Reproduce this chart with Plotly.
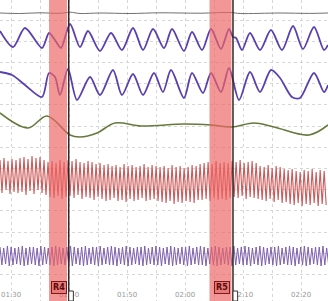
import plotly.graph_objects as go

# ---- x axis ticks ----
tick_vals = [90, 95, 100, 105, 110, 115, 120, 125, 130, 135, 140]
tick_text = ["01:30", "", "01:40", "", "01:50", "", "02:00", "", "02:10", "", "02:20"]

# ---- slow channels (time in s, value in display units) ----
gray_t = [88.1, 91.5, 95.0, 98.4, 100.2, 101.9, 105.3, 110.5, 115.7, 122.6, 127.8, 129.5, 136.4, 141.5, 144.65]
gray_v = [13, 13.5, 12.8, 13.3, 12.2, 13.5, 13, 13.5, 12.8, 13.2, 12.5, 13.5, 13, 13.4, 13]

p1_t = [88.10, 90.34, 92.41, 95.34, 96.55, 97.58, 98.62, 100.17, 101.89, 103.27, 105.34, 107.24,
        109.13, 111.03, 112.76, 114.48, 116.38, 117.76, 119.82, 121.20, 122.93, 124.48, 126.20,
        127.58, 128.27, 128.80, 129.82, 131.20, 132.93, 134.82, 136.72, 138.62, 140.34, 142.24,
        143.96, 144.65]
p1_v = [31, 47, 28, 48, 33, 40, 48, 24, 47, 31, 51, 33,
        50, 28, 50, 29, 48, 29, 51, 32, 50, 29, 49,
        29, 37, 38, 50, 33, 50, 30, 50, 26, 49, 27,
        50, 45]

p2_t = [88.10, 90.17, 92.41, 95.34, 96.55, 97.58, 98.44, 99.82, 101.38, 103.62, 105.34, 107.58,
        109.13, 111.03, 112.76, 114.65, 116.20, 117.58, 119.82, 121.20, 123.10, 124.48, 126.20,
        127.58, 129.31, 131.20, 132.93, 134.82, 136.38, 138.44, 139.82, 142.24, 143.96, 144.65]
p2_v = [72, 75, 85, 97, 73, 77, 95, 69, 100, 77, 95, 70,
        95, 74, 95, 73, 92, 70, 98, 73, 93, 73, 92,
        68, 100, 72, 92, 70, 78, 97, 98, 73, 92, 85]

ol_t = [88.10, 92.93, 96.20, 100.17, 101.89, 104.82, 107.93, 112.5,
        119.82, 124.48, 128.10, 131.89, 135.34, 141.38, 144.65]
ol_v = [113, 128, 116, 135, 137, 133, 123, 126,
        124, 125, 127, 123, 127, 135, 125]

# ---- dense channels: per-cycle peak / trough values ----
red_t0 = 88.1
red_period = 0.69
red_top = [160, 158, 161, 159, 160,
           158, 157, 159, 156, 158, 157, 160,
           162, 161, 163, 160, 162,
           160, 161, 159, 162, 163, 161, 162, 164,
           163, 165, 164, 166, 165, 167, 164, 166, 165, 167, 166, 164, 167, 165, 166,
           167, 166, 168, 165, 167, 166, 168, 167, 165, 166,
           164, 163, 162, 164, 161, 163, 162, 163,
           161, 162, 160, 163, 162, 161, 163,
           166, 167, 165, 168, 166, 167, 169,
           170, 169, 171, 172, 170, 171, 169, 172, 170, 171]
red_bot = [193, 190, 194, 192, 193,
           192, 195, 191, 194, 190, 193, 195,
           197, 198, 196, 199, 197,
           196, 198, 195, 199, 197, 198, 200, 197,
           199, 201, 200, 198, 201, 200, 202, 199, 201, 200, 198, 201, 200, 199, 201,
           202, 203, 201, 204, 202, 203, 201, 202, 203, 200,
           200, 199, 201, 198, 200, 199, 200, 198,
           197, 198, 196, 199, 197, 198, 199,
           200, 201, 199, 202, 200, 203, 202,
           204, 205, 203, 206, 204, 205, 203, 206, 204, 205]

pd_t0 = 88.1
pd_period = 0.64
pd_top = [247, 248, 246, 247, 248, 247, 246, 248, 247, 247,
          248, 246, 247, 248, 247, 246, 247, 248, 247, 246,
          247, 248, 247, 246, 248, 247, 247, 246, 248, 247,
          246, 247, 248, 247, 246, 247, 248, 247, 247, 246,
          248, 247, 246, 247, 248, 247, 246, 247, 248, 247,
          247, 246, 248, 247, 246, 247, 248, 247, 246, 247,
          248, 247, 247, 246, 248, 247, 246, 247, 248, 247,
          246, 247, 248, 247, 247, 246, 248, 247, 246, 247,
          248, 247, 246, 247, 248, 247, 247, 246, 248]
pd_bot = [265, 264, 266, 265, 264, 265, 266, 265, 264, 265,
          266, 265, 264, 265, 266, 265, 264, 265, 265, 266,
          264, 265, 266, 265, 264, 265, 266, 265, 264, 265,
          265, 266, 264, 265, 266, 265, 264, 265, 266, 265,
          264, 265, 265, 266, 264, 265, 266, 265, 264, 265,
          266, 265, 264, 265, 265, 266, 264, 265, 266, 265,
          264, 265, 266, 265, 264, 265, 265, 266, 264, 265,
          266, 265, 264, 265, 266, 265, 264, 265, 265, 266,
          264, 265, 266, 265, 264, 265, 266, 265, 264]

# ---- events ----
ev_labels = ["R4", "R5"]
ev_start = [96.55, 124.22]
ev_end = [99.65, 128.01]
ev_line = [99.95, 128.27]
ev_label_x = [98.27, 126.29]


def zigzag(t0, period, tops, bots):
    xs, ys = [], []
    half = period / 2.0
    for i, (a, b) in enumerate(zip(tops, bots)):
        xs += [t0 + i * period, t0 + i * period + half]
        ys += [a, b]
    return xs, ys


fig = go.Figure()

fig.add_trace(go.Scatter(x=gray_t, y=gray_v, mode="lines", line=dict(color="#707070", width=1, shape="spline")))
fig.add_trace(go.Scatter(x=p1_t, y=p1_v, mode="lines", line=dict(color="#5a3fb0", width=1.8, shape="spline", smoothing=0.8)))
fig.add_trace(go.Scatter(x=p2_t, y=p2_v, mode="lines", line=dict(color="#5a3fb0", width=1.8, shape="spline", smoothing=0.8)))
fig.add_trace(go.Scatter(x=ol_t, y=ol_v, mode="lines", line=dict(color="#66793c", width=1.6, shape="spline", smoothing=1.0)))

rx, ry = zigzag(red_t0, red_period, red_top, red_bot)
fig.add_trace(go.Scatter(x=rx, y=ry, mode="lines", line=dict(color="#cc5a5a", width=1.1)))
px, py = zigzag(pd_t0, pd_period, pd_top, pd_bot)
fig.add_trace(go.Scatter(x=px, y=py, mode="lines", line=dict(color="#7e60ad", width=1)))

for s, e, ln, lab, lx in zip(ev_start, ev_end, ev_line, ev_labels, ev_label_x):
    fig.add_shape(type="rect", xref="x", yref="paper", x0=s, x1=e, y0=0, y1=1,
                  fillcolor="rgba(238,100,100,0.68)", line_width=0, layer="above")
    fig.add_shape(type="line", xref="x", yref="paper", x0=ln, x1=ln, y0=0, y1=1,
                  line=dict(color="#2a2a2a", width=1.5), layer="above")
    fig.add_shape(type="rect", xref="x", yref="y", x0=ln, x1=ln + 0.8, y0=291, y1=301,
                  fillcolor="white", line=dict(color="#333", width=1), layer="above")
    fig.add_annotation(x=lx, y=287, xref="x", yref="y", text="<b>" + lab + "</b>", showarrow=False,
                       font=dict(size=8, color="#5a0a0a", family="DejaVu Sans"),
                       bgcolor="#e87a7a", bordercolor="#7a1a1a", borderwidth=1, borderpad=1)

fig.update_layout(
    width=328, height=301,
    margin=dict(l=0, r=0, t=0, b=0),
    paper_bgcolor="white", plot_bgcolor="white",
    showlegend=False,
    xaxis=dict(range=[88.1, 144.65], tickvals=tick_vals, ticktext=tick_text,
               ticklabelposition="inside", ticks="", showline=False, zeroline=False,
               showgrid=True, gridcolor="#d6d6d6", griddash="dot", gridwidth=1,
               tickfont=dict(size=7, color="#9a9a9a", family="DejaVu Sans")),
    yaxis=dict(range=[301, 0], tick0=20, dtick=21.2, showticklabels=False, ticks="",
               showline=False, zeroline=False, showgrid=True, gridcolor="#d6d6d6",
               griddash="dot", gridwidth=1),
)

fig.write_html("out.html")
